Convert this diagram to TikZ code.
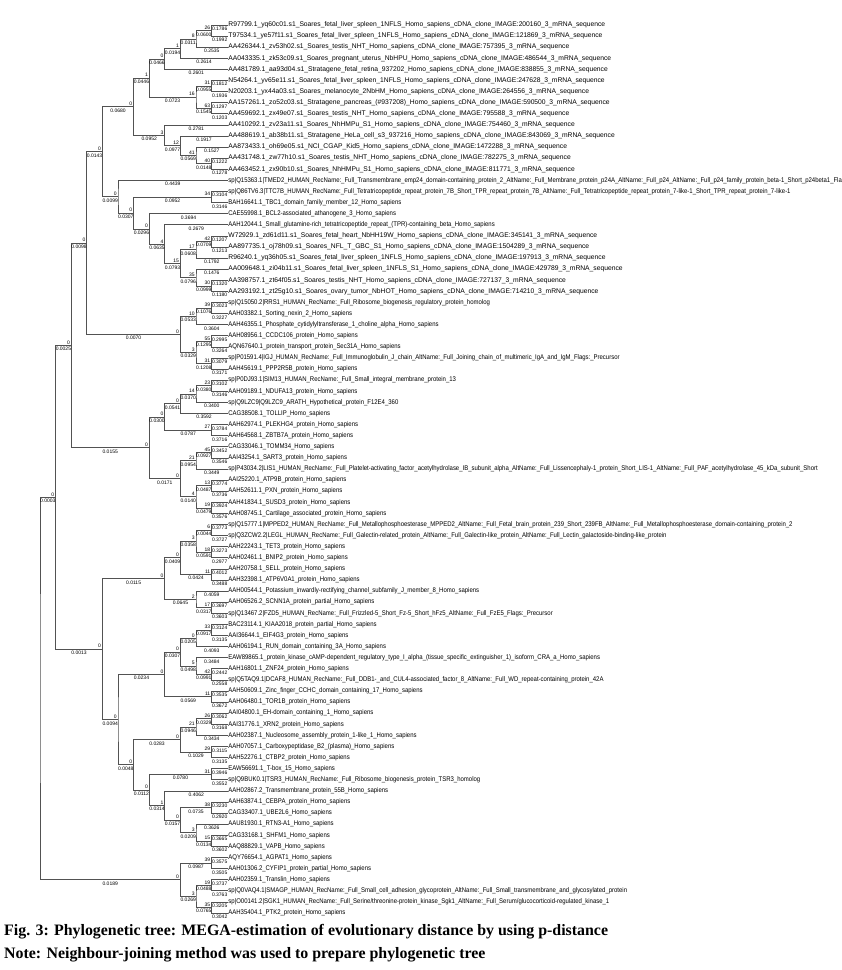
\documentclass[tikz,border=0pt]{standalone}
\usepackage{fontspec}
\setmainfont{Liberation Sans}
\newfontfamily\capfont{Liberation Serif}
\newfontfamily\leaffont[FakeStretch=0.88]{Liberation Sans}
\newfontfamily\cdnafont[FakeStretch=0.99]{Liberation Sans}
\usetikzlibrary{calc}
\tikzset{
  br/.style={draw=black!68, line width=0.7pt},
  leaf/.style={anchor=west, inner sep=0.5pt, text height=4.9pt, text depth=1.4pt, font=\leaffont\fontsize{6.8}{7}\selectfont},
  cleaf/.style={leaf, font=\cdnafont\fontsize{6.8}{7}\selectfont},
  lenlab/.style={anchor=north, inner sep=0.2pt, yshift=-1.6pt, font=\fontsize{5}{5}\selectfont},
  bslab/.style={anchor=south east, inner sep=0.2pt, font=\fontsize{5}{5}\selectfont},
  captext/.style={anchor=west, inner sep=0pt, font=\capfont\bfseries\fontsize{15.9}{16}\selectfont},
}
\newcommand\leafnode[2]{\node[leaf] (L#1) at (227.7,{25+(#1-1)*11.1}) {#2};}
\newcommand\cleafnode[2]{\node[cleaf] (L#1) at (227.7,{25+(#1-1)*11.1}) {#2};}
\newcommand\inode[7]{%
  \path let \p1=(#3), \p2=(#5) in coordinate (#1) at ({(227.2-15.6*#2)*1pt},{0.5*\y1+0.5*\y2});
  \draw[br] (#3) -| (#1) |- (#5);
  \path (#1 |- #3) -- (#3) node[lenlab, midway] (len-#3) {#4};
  \path (#1 |- #5) -- (#5) node[lenlab, midway] (len-#5) {#6};
  \ifx\relax#7\relax\else\node[bslab] (bs-#1) at ([xshift=-1pt,yshift=0.8pt]#1) {#7};\fi
}
\begin{document}
\catcode`\_=12
\begin{tikzpicture}[x=1pt,y=-1pt]
\clip (0,0) rectangle (842,970);
\fill[white] (0,0) rectangle (842,970);
\cleafnode{1}{R97799.1_yq60c01.s1_Soares_fetal_liver_spleen_1NFLS_Homo_sapiens_cDNA_clone_IMAGE:200160_3_mRNA_sequence}
\cleafnode{2}{T97534.1_ye57f11.s1_Soares_fetal_liver_spleen_1NFLS_Homo_sapiens_cDNA_clone_IMAGE:121869_3_mRNA_sequence}
\cleafnode{3}{AA426344.1_zv53h02.s1_Soares_testis_NHT_Homo_sapiens_cDNA_clone_IMAGE:757395_3_mRNA_sequence}
\cleafnode{4}{AA043335.1_zk53c09.s1_Soares_pregnant_uterus_NbHPU_Homo_sapiens_cDNA_clone_IMAGE:486544_3_mRNA_sequence}
\cleafnode{5}{AA481789.1_aa93d04.s1_Stratagene_fetal_retina_937202_Homo_sapiens_cDNA_clone_IMAGE:838855_3_mRNA_sequence}
\cleafnode{6}{N54264.1_yv65e11.s1_Soares_fetal_liver_spleen_1NFLS_Homo_sapiens_cDNA_clone_IMAGE:247628_3_mRNA_sequence}
\cleafnode{7}{N20203.1_yx44a03.s1_Soares_melanocyte_2NbHM_Homo_sapiens_cDNA_clone_IMAGE:264556_3_mRNA_sequence}
\cleafnode{8}{AA157261.1_zo52c03.s1_Stratagene_pancreas_(\#937208)_Homo_sapiens_cDNA_clone_IMAGE:590500_3_mRNA_sequence}
\cleafnode{9}{AA459692.1_zx49e07.s1_Soares_testis_NHT_Homo_sapiens_cDNA_clone_IMAGE:795588_3_mRNA_sequence}
\cleafnode{10}{AA410292.1_zv23a11.s1_Soares_NhHMPu_S1_Homo_sapiens_cDNA_clone_IMAGE:754460_3_mRNA_sequence}
\cleafnode{11}{AA488619.1_ab38b11.s1_Stratagene_HeLa_cell_s3_937216_Homo_sapiens_cDNA_clone_IMAGE:843069_3_mRNA_sequence}
\cleafnode{12}{AA873433.1_oh69e05.s1_NCI_CGAP_Kid5_Homo_sapiens_cDNA_clone_IMAGE:1472288_3_mRNA_sequence}
\cleafnode{13}{AA431748.1_zw77h10.s1_Soares_testis_NHT_Homo_sapiens_cDNA_clone_IMAGE:782275_3_mRNA_sequence}
\cleafnode{14}{AA463452.1_zx90b10.s1_Soares_NhHMPu_S1_Homo_sapiens_cDNA_clone_IMAGE:811771_3_mRNA_sequence}
\leafnode{15}{sp|Q15363.1|TMED2_HUMAN_RecName:_Full_Transmembrane_emp24_domain-containing_protein_2_AltName:_Full_Membrane_protein_p24A_AltName:_Full_p24_AltName:_Full_p24_family_protein_beta-1_Short_p24beta1_Fla}
\leafnode{16}{sp|Q86TV6.3|TTC7B_HUMAN_RecName:_Full_Tetratricopeptide_repeat_protein_7B_Short_TPR_repeat_protein_7B_AltName:_Full_Tetratricopeptide_repeat_protein_7-like-1_Short_TPR_repeat_protein_7-like-1}
\leafnode{17}{BAH16641.1_TBC1_domain_family_member_12_Homo_sapiens}
\leafnode{18}{CAE55998.1_BCL2-associated_athanogene_3_Homo_sapiens}
\leafnode{19}{AAH12044.1_Small_glutamine-rich_tetratricopeptide_repeat_(TPR)-containing_beta_Homo_sapiens}
\cleafnode{20}{W72929.1_zd61d11.s1_Soares_fetal_heart_NbHH19W_Homo_sapiens_cDNA_clone_IMAGE:345141_3_mRNA_sequence}
\cleafnode{21}{AA897735.1_oj78h09.s1_Soares_NFL_T_GBC_S1_Homo_sapiens_cDNA_clone_IMAGE:1504289_3_mRNA_sequence}
\cleafnode{22}{R96240.1_yq36h05.s1_Soares_fetal_liver_spleen_1NFLS_Homo_sapiens_cDNA_clone_IMAGE:197913_3_mRNA_sequence}
\cleafnode{23}{AA009648.1_zi04b11.s1_Soares_fetal_liver_spleen_1NFLS_S1_Homo_sapiens_cDNA_clone_IMAGE:429789_3_mRNA_sequence}
\cleafnode{24}{AA398757.1_zt64f05.s1_Soares_testis_NHT_Homo_sapiens_cDNA_clone_IMAGE:727137_3_mRNA_sequence}
\cleafnode{25}{AA293192.1_zt25g10.s1_Soares_ovary_tumor_NbHOT_Homo_sapiens_cDNA_clone_IMAGE:714210_3_mRNA_sequence}
\leafnode{26}{sp|Q15050.2|RRS1_HUMAN_RecName:_Full_Ribosome_biogenesis_regulatory_protein_homolog}
\leafnode{27}{AAH03382.1_Sorting_nexin_2_Homo_sapiens}
\leafnode{28}{AAH46355.1_Phosphate_cytidylyltransferase_1_choline_alpha_Homo_sapiens}
\leafnode{29}{AAH08956.1_CCDC106_protein_Homo_sapiens}
\leafnode{30}{AQN67640.1_protein_transport_protein_Sec31A_Homo_sapiens}
\leafnode{31}{sp|P01591.4|IGJ_HUMAN_RecName:_Full_Immunoglobulin_J_chain_AltName:_Full_Joining_chain_of_multimeric_IgA_and_IgM_Flags:_Precursor}
\leafnode{32}{AAH45619.1_PPP2R5B_protein_Homo_sapiens}
\leafnode{33}{sp|P0DJ93.1|SIM13_HUMAN_RecName:_Full_Small_integral_membrane_protein_13}
\leafnode{34}{AAH09189.1_NDUFA13_protein_Homo_sapiens}
\leafnode{35}{sp|Q9LZC9|Q9LZC9_ARATH_Hypothetical_protein_F12E4_360}
\leafnode{36}{CAG38508.1_TOLLIP_Homo_sapiens}
\leafnode{37}{AAH62974.1_PLEKHG4_protein_Homo_sapiens}
\leafnode{38}{AAH64568.1_ZBTB7A_protein_Homo_sapiens}
\leafnode{39}{CAG33046.1_TOMM34_Homo_sapiens}
\leafnode{40}{AAI43254.1_SART3_protein_Homo_sapiens}
\leafnode{41}{sp|P43034.2|LIS1_HUMAN_RecName:_Full_Platelet-activating_factor_acetylhydrolase_IB_subunit_alpha_AltName:_Full_Lissencephaly-1_protein_Short_LIS-1_AltName:_Full_PAF_acetylhydrolase_45_kDa_subunit_Short}
\leafnode{42}{AAI25220.1_ATP9B_protein_Homo_sapiens}
\leafnode{43}{AAH52611.1_PXN_protein_Homo_sapiens}
\leafnode{44}{AAH41834.1_SUSD3_protein_Homo_sapiens}
\leafnode{45}{AAH08745.1_Cartilage_associated_protein_Homo_sapiens}
\leafnode{46}{sp|Q15777.1|MPPED2_HUMAN_RecName:_Full_Metallophosphoesterase_MPPED2_AltName:_Full_Fetal_brain_protein_239_Short_239FB_AltName:_Full_Metallophosphoesterase_domain-containing_protein_2}
\leafnode{47}{sp|Q3ZCW2.2|LEGL_HUMAN_RecName:_Full_Galectin-related_protein_AltName:_Full_Galectin-like_protein_AltName:_Full_Lectin_galactoside-binding-like_protein}
\leafnode{48}{AAH22243.1_TET3_protein_Homo_sapiens}
\leafnode{49}{AAH02461.1_BNIP2_protein_Homo_sapiens}
\leafnode{50}{AAH20758.1_SELL_protein_Homo_sapiens}
\leafnode{51}{AAH32398.1_ATP6V0A1_protein_Homo_sapiens}
\leafnode{52}{AAH00544.1_Potassium_inwardly-rectifying_channel_subfamily_J_member_8_Homo_sapiens}
\leafnode{53}{AAH06526.2_SCNN1A_protein_partial_Homo_sapiens}
\leafnode{54}{sp|Q13467.2|FZD5_HUMAN_RecName:_Full_Frizzled-5_Short_Fz-5_Short_hFz5_AltName:_Full_FzE5_Flags:_Precursor}
\leafnode{55}{BAC23114.1_KIAA2018_protein_partial_Homo_sapiens}
\leafnode{56}{AAI36644.1_EIF4G3_protein_Homo_sapiens}
\leafnode{57}{AAH06194.1_RUN_domain_containing_3A_Homo_sapiens}
\leafnode{58}{EAW89865.1_protein_kinase_cAMP-dependent_regulatory_type_I_alpha_(tissue_specific_extinguisher_1)_isoform_CRA_a_Homo_sapiens}
\leafnode{59}{AAH16801.1_ZNF24_protein_Homo_sapiens}
\leafnode{60}{sp|Q5TAQ9.1|DCAF8_HUMAN_RecName:_Full_DDB1-_and_CUL4-associated_factor_8_AltName:_Full_WD_repeat-containing_protein_42A}
\leafnode{61}{AAH50609.1_Zinc_finger_CCHC_domain_containing_17_Homo_sapiens}
\leafnode{62}{AAH06480.1_TOR1B_protein_Homo_sapiens}
\leafnode{63}{AAI04800.1_EH-domain_containing_1_Homo_sapiens}
\leafnode{64}{AAI31776.1_XRN2_protein_Homo_sapiens}
\leafnode{65}{AAH02387.1_Nucleosome_assembly_protein_1-like_1_Homo_sapiens}
\leafnode{66}{AAH07057.1_Carboxypeptidase_B2_(plasma)_Homo_sapiens}
\leafnode{67}{AAH52276.1_CTBP2_protein_Homo_sapiens}
\leafnode{68}{EAW56691.1_T-box_15_Homo_sapiens}
\leafnode{69}{sp|Q9BUK0.1|TSR3_HUMAN_RecName:_Full_Ribosome_biogenesis_protein_TSR3_homolog}
\leafnode{70}{AAH02867.2_Transmembrane_protein_55B_Homo_sapiens}
\leafnode{71}{AAH63874.1_CEBPA_protein_Homo_sapiens}
\leafnode{72}{CAG33407.1_UBE2L6_Homo_sapiens}
\leafnode{73}{AAU81930.1_RTN3-A1_Homo_sapiens}
\leafnode{74}{CAG33168.1_SHFM1_Homo_sapiens}
\leafnode{75}{AAQ88829.1_VAPB_Homo_sapiens}
\leafnode{76}{AQY76654.1_AGPAT1_Homo_sapiens}
\leafnode{77}{AAH01306.2_CYFIP1_protein_partial_Homo_sapiens}
\leafnode{78}{AAH02359.1_Translin_Homo_sapiens}
\leafnode{79}{sp|Q0VAQ4.1|SMAGP_HUMAN_RecName:_Full_Small_cell_adhesion_glycoprotein_AltName:_Full_Small_transmembrane_and_glycosylated_protein}
\leafnode{80}{sp|O00141.2|SGK1_HUMAN_RecName:_Full_Serine/threonine-protein_kinase_Sgk1_AltName:_Full_Serum/glucocorticoid-regulated_kinase_1}
\leafnode{81}{AAH35404.1_PTK2_protein_Homo_sapiens}
% top clade
\inode{nA}{1}{L1}{0.1786}{L2}{0.1992}{26}
\inode{nB}{2}{nA}{0.0600}{L3}{0.2535}{8}
\inode{nC}{3}{nB}{0.0311}{L4}{0.2614}{1}
\inode{nD}{4}{nC}{0.0194}{L5}{0.2601}{0}
\inode{nG}{1}{L6}{0.1812}{L7}{0.1936}{31}
\inode{nI}{1}{L8}{0.1297}{L9}{0.1203}{63}
\inode{nH}{2}{nG}{0.0955}{nI}{0.1545}{16}
\inode{nE}{5}{nD}{0.0466}{nH}{0.0723}{1}
\inode{nO}{1}{L13}{0.1222}{L14}{0.1278}{40}
\inode{nN}{2}{L12}{0.1527}{nO}{0.0148}{41}
\inode{nM}{3}{L11}{0.1917}{nN}{0.0569}{12}
\inode{nK}{4}{L10}{0.2781}{nM}{0.0977}{3}
\inode{nJ}{6}{nE}{0.0446}{nK}{0.0952}{0}
\inode{nS}{1}{L16}{0.3104}{L17}{0.3146}{34}
\inode{nT}{1}{L20}{0.1207}{L21}{0.1213}{42}
\inode{nU}{2}{nT}{0.0709}{L22}{0.1792}{17}
\inode{nW}{1}{L24}{0.1320}{L25}{0.1180}{30}
\inode{nX}{2}{L23}{0.1476}{nW}{0.0999}{35}
\inode{nZ}{3}{nU}{0.0608}{nX}{0.0796}{15}
\inode{nV}{4}{L19}{0.2679}{nZ}{0.0793}{4}
\inode{nAA}{5}{L18}{0.3694}{nV}{0.0635}{0}
\inode{nAB}{6}{nS}{0.0952}{nAA}{0.0296}{0}
\inode{nR}{7}{L15}{0.4439}{nAB}{0.0307}{0}
\inode{nP}{8}{nJ}{0.0680}{nR}{0.0099}{0}
\inode{nBA}{1}{L26}{0.3023}{L27}{0.3227}{39}
\inode{nBB}{2}{nBA}{0.1076}{L28}{0.3604}{10}
\inode{nBC}{1}{L29}{0.2995}{L30}{0.3264}{55}
\inode{nBE}{1}{L31}{0.3079}{L32}{0.3171}{31}
\inode{nBD}{2}{nBC}{0.1295}{nBE}{0.1208}{3}
\inode{nBF}{3}{nBB}{0.0533}{nBD}{0.0329}{0}
\inode{nCA}{9}{nP}{0.0143}{nBF}{0.0070}{0}
\inode{nCC}{1}{L33}{0.3102}{L34}{0.3146}{23}
\inode{nCD}{2}{nCC}{0.0380}{L35}{0.3400}{14}
\inode{nCE}{3}{nCD}{0.0370}{L36}{0.3592}{0}
\inode{nCF}{1}{L37}{0.3784}{L38}{0.3716}{27}
\inode{nCG}{4}{nCE}{0.0541}{nCF}{0.0787}{0}
\inode{nCJ}{1}{L39}{0.3452}{L40}{0.3546}{45}
\inode{nCK}{2}{nCJ}{0.0927}{L41}{0.3449}{21}
\inode{nCM}{1}{L42}{0.3774}{L43}{0.3736}{13}
\inode{nCO}{1}{L44}{0.3924}{L45}{0.3576}{19}
\inode{nCN}{2}{nCM}{0.0487}{nCO}{0.0479}{4}
\inode{nCI}{3}{nCK}{0.0954}{nCN}{0.0140}{0}
\inode{nCH}{5}{nCG}{0.0300}{nCI}{0.0171}{0}
\inode{nCB}{10}{nCA}{0.0098}{nCH}{0.0155}{0}
% middle clade
\inode{nED}{1}{L46}{0.3773}{L47}{0.3727}{6}
\inode{nEF}{1}{L48}{0.3273}{L49}{0.2977}{18}
\inode{nEE}{2}{nED}{0.0044}{nEF}{0.0591}{3}
\inode{nEH}{1}{L50}{0.4012}{L51}{0.3488}{11}
\inode{nEG}{3}{nEE}{0.0358}{nEH}{0.0424}{0}
\inode{nEJ}{1}{L53}{0.3697}{L54}{0.3603}{17}
\inode{nEI}{2}{L52}{0.4059}{nEJ}{0.0317}{2}
\inode{nEA}{4}{nEG}{0.0409}{nEI}{0.0645}{0}
\inode{nYa}{1}{L55}{0.3124}{L56}{0.3135}{33}
\inode{nYb}{2}{nYa}{0.0917}{L57}{0.4093}{0}
\inode{nYd}{1}{L59}{0.2442}{L60}{0.2558}{42}
\inode{nYc}{2}{L58}{0.3484}{nYd}{0.0991}{5}
\inode{nY}{3}{nYb}{0.0205}{nYc}{0.0498}{0}
\inode{nYe}{1}{L61}{0.3535}{L62}{0.3672}{11}
\inode{nXb}{4}{nY}{0.0307}{nYe}{0.0569}{0}
\inode{nGA}{1}{L63}{0.3062}{L64}{0.3168}{26}
\inode{nGB}{2}{nGA}{0.0329}{L65}{0.3434}{21}
\inode{nGD}{1}{L66}{0.3115}{L67}{0.3135}{29}
\inode{nGC}{3}{nGB}{0.0946}{nGD}{0.1029}{0}
\inode{nGE}{1}{L68}{0.3946}{L69}{0.3552}{31}
\inode{nGI}{1}{L71}{0.3230}{L72}{0.2920}{38}
\inode{nGL}{1}{L74}{0.3665}{L75}{0.3602}{15}
\inode{nGK}{2}{L73}{0.3626}{nGL}{0.0134}{3}
\inode{nGJ}{3}{nGI}{0.0735}{nGK}{0.0209}{0}
\inode{nGG}{4}{L70}{0.4062}{nGJ}{0.0157}{1}
\inode{nGF}{5}{nGE}{0.0780}{nGG}{0.0314}{0}
\inode{nFC}{6}{nGC}{0.0283}{nGF}{0.0112}{0}
\inode{nFB}{7}{nXb}{0.0234}{nFC}{0.0048}{0}
\inode{nDB}{8}{nEA}{0.0115}{nFB}{0.0094}{0}
\inode{nDA}{11}{nCB}{0.0025}{nDB}{0.0013}{0}
% bottom clade
\inode{nHA}{1}{L76}{0.3575}{L77}{0.3505}{39}
\inode{nHD}{1}{L78}{0.3737}{L79}{0.3763}{19}
\inode{nHE}{1}{L80}{0.3205}{L81}{0.3042}{35}
\inode{nHC}{2}{nHD}{0.0488}{nHE}{0.0765}{3}
\inode{nHB}{3}{nHA}{0.0987}{nHC}{0.0269}{0}
\inode{root}{12}{nDA}{0.0003}{nHB}{0.0189}{}
% caption
\node[captext] (cap1) at (4,932) {Fig. 3: Phylogenetic tree: MEGA-estimation of evolutionary distance by using p-distance};
\node[captext] (cap2) at (4,955) {Note: Neighbour-joining method was used to prepare phylogenetic tree};
\end{tikzpicture}
\end{document}
